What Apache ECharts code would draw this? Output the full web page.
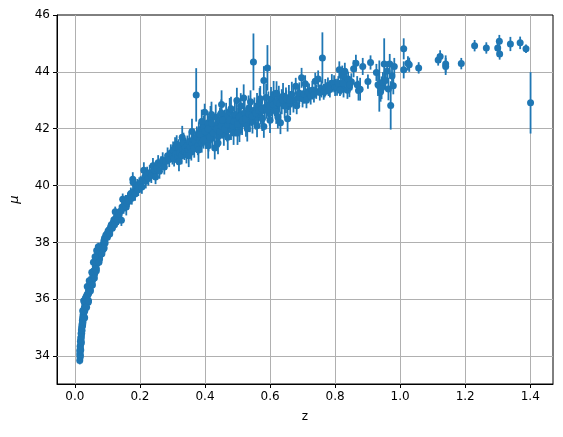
<!DOCTYPE html>
<html lang="en">
<head>
    <meta charset="UTF-8">
    <title>Hubble diagram</title>
    <script src="https://cdn.jsdelivr.net/npm/echarts@6/dist/echarts.min.js"></script>
    <style>
        body { margin: 0; background: #fff; }
        #chart { width: 563px; height: 437px; }
    </style>
</head>
<body>
    <div id="chart"></div>
    <script>
        // redshift of each supernova
        const zVals = [
            0.015,0.015,0.015,0.016,0.016,0.016,0.017,0.017,0.017,0.018,
            0.018,0.018,0.019,0.019,0.020,0.020,0.020,0.021,0.021,0.022,
            0.022,0.023,0.023,0.024,0.024,0.025,0.025,0.026,0.026,0.027,
            0.028,0.028,0.029,0.030,0.030,0.031,0.032,0.032,0.033,0.034,
            0.035,0.036,0.037,0.038,0.040,0.041,0.042,0.043,0.045,0.046,
            0.048,0.050,0.051,0.053,0.055,0.056,0.058,0.060,0.061,0.063,
            0.065,0.066,0.068,0.070,0.071,0.073,0.075,0.076,0.078,0.080,
            0.082,0.085,0.087,0.089,0.091,0.093,0.095,0.098,0.100,
            0.024,0.027,0.033,0.038,0.044,0.052,0.057,0.062,0.067,0.072,
            0.030,0.036,0.042,0.048,0.054,0.060,0.066,0.074,0.083,0.090,
            0.102,0.105,0.107,0.110,0.112,0.115,0.118,0.120,0.122,0.124,
            0.126,0.130,0.133,0.136,0.140,0.143,0.145,0.147,0.150,0.153,
            0.156,0.158,0.160,0.163,0.166,0.170,0.172,0.175,0.178,0.179,
            0.182,0.185,0.188,0.192,0.195,0.198,0.202,0.206,0.210,0.212,
            0.215,0.218,0.222,0.226,0.230,0.235,0.240,0.244,0.248,0.252,
            0.256,0.260,0.265,0.270,0.275,0.280,0.285,0.290,0.295,0.300,
            0.302,0.305,0.308,0.310,0.313,0.316,0.319,0.322,0.325,0.328,
            0.331,0.334,0.337,0.340,0.343,0.346,0.349,0.352,0.355,0.358,
            0.361,0.364,0.367,0.370,0.373,0.375,0.378,0.381,0.384,0.387,
            0.390,0.393,0.396,0.399,0.402,0.405,0.408,0.411,0.414,0.417,
            0.420,0.423,0.426,0.430,0.433,0.436,0.440,0.443,0.446,0.451,
            0.454,0.458,0.461,0.465,0.468,0.472,0.476,0.480,0.484,0.488,
            0.492,0.495,0.498,0.502,0.506,0.510,0.514,0.519,0.522,0.526,
            0.530,0.534,0.538,0.542,0.546,0.549,0.552,0.556,0.560,0.564,
            0.568,0.572,0.576,0.581,0.581,0.584,0.588,0.592,0.595,0.599,
            0.603,0.607,0.611,0.615,0.619,0.624,0.627,0.632,0.636,0.640,
            0.645,0.649,0.654,0.658,0.662,0.667,0.672,0.679,0.682,0.686,
            0.385,0.395,0.400,0.410,0.415,0.420,0.425,0.435,0.445,0.450,
            0.455,0.460,0.470,0.475,0.485,0.490,0.500,0.505,0.515,0.525,
            0.535,0.545,0.555,0.565,0.575,0.590,0.600,0.610,0.620,0.630,
            0.320,0.350,0.380,0.410,0.440,0.470,0.500,0.530,0.560,0.600,
            0.330,0.360,0.390,0.420,0.450,0.480,0.510,0.540,0.570,0.620,
            0.640,0.650,0.660,0.705,0.715,0.728,0.742,0.755,0.768,0.775,
            0.690,0.697,0.700,0.704,0.708,0.712,0.716,0.720,0.725,0.730,
            0.735,0.739,0.748,0.753,0.758,0.761,0.765,0.770,0.778,0.784,
            0.790,0.797,0.800,0.806,0.813,0.818,0.822,0.826,0.830,0.834,
            0.838,0.844,0.850,0.857,0.864,0.868,0.872,0.877,0.885,0.901,
            0.909,0.927,0.932,0.936,0.940,0.943,0.947,0.951,0.955,0.960,
            0.964,0.968,0.971,0.975,0.979,0.982,0.780,0.810,0.815,0.825,
            0.840,0.845,1.011,1.011,1.024,1.028,1.057,1.117,1.123,1.140,
            1.140,1.188,1.229,1.265,1.300,1.305,1.306,1.339,1.369,1.387,
            1.401
        ];
        // distance modulus
        const muVals = [
            33.85,34.05,34.20,33.95,34.35,34.12,34.28,34.52,34.02,34.42,
            34.65,34.22,34.58,34.80,34.68,34.92,34.48,34.80,35.02,34.90,
            35.12,35.05,35.25,35.10,35.35,35.20,35.45,35.32,35.55,35.45,
            35.62,35.38,35.70,35.58,35.85,35.75,35.95,35.68,35.88,36.05,
            35.92,36.12,35.98,36.18,36.15,35.90,36.32,36.22,36.48,36.38,
            36.58,36.50,36.68,36.62,36.80,36.72,36.92,37.02,36.90,37.15,
            37.28,37.08,37.32,37.45,37.30,37.55,37.62,37.42,37.70,37.58,
            37.80,37.92,37.75,38.05,38.15,37.98,38.25,38.30,38.18,
            35.60,35.95,36.05,36.45,36.65,36.95,37.30,37.50,37.72,37.85,
            35.35,35.72,35.95,36.30,36.50,36.75,37.00,37.30,37.60,37.80,
            38.40,38.45,38.30,38.55,38.62,38.50,38.70,38.80,38.62,39.08,
            38.85,38.90,38.78,39.00,39.10,38.78,39.25,39.52,39.20,39.35,
            39.48,39.25,39.40,39.55,39.45,39.60,39.72,39.55,40.22,40.12,
            39.80,39.70,39.92,40.00,39.85,40.05,40.10,39.95,40.20,40.54,
            40.30,40.15,40.40,40.25,40.45,40.35,40.70,40.55,40.30,40.62,
            40.80,40.50,40.75,40.90,40.65,40.85,41.05,40.92,41.15,41.02,
            41.25,40.95,41.35,41.10,41.45,41.00,41.30,41.15,41.40,41.05,
            41.25,41.50,41.20,41.35,41.08,41.42,41.28,41.55,41.35,41.18,
            41.48,41.62,41.30,41.55,43.19,41.72,41.40,41.85,41.60,41.95,
            41.50,41.75,42.05,42.58,41.65,41.88,42.20,41.55,41.80,42.35,
            41.95,41.70,42.10,41.32,42.40,41.90,42.15,41.75,42.30,42.85,
            42.05,41.85,42.25,42.45,41.95,42.20,42.60,42.00,42.35,41.85,
            42.50,42.15,42.99,42.30,41.95,42.45,42.20,43.08,42.55,42.15,
            42.40,42.70,42.30,42.55,42.25,44.35,42.65,42.40,42.80,42.50,
            42.95,42.60,42.35,43.70,42.08,42.75,43.10,44.14,42.85,42.55,
            43.00,42.70,43.20,42.90,42.60,42.41,43.05,42.21,42.95,43.15,
            42.80,43.00,42.35,43.10,42.90,43.20,43.00,43.49,42.81,43.10,
            41.80,41.60,41.90,42.00,41.70,42.20,41.85,42.00,41.90,42.10,
            42.30,42.00,42.15,42.30,42.10,42.25,42.15,42.40,42.30,42.35,
            42.50,42.45,42.55,42.65,42.70,42.65,42.80,42.85,42.95,42.90,
            40.85,41.05,41.25,41.40,41.50,41.70,41.85,42.00,42.10,42.30,
            41.70,41.90,42.25,42.50,42.55,42.70,42.80,42.95,43.05,43.25,
            43.00,43.05,43.00,43.12,43.18,43.25,43.30,43.35,43.32,43.40,
            43.25,43.79,43.05,43.20,43.58,43.00,43.30,43.29,43.15,43.35,
            43.20,43.67,43.75,43.27,43.40,44.49,43.30,43.45,43.52,43.40,
            43.60,43.58,43.45,43.46,44.07,43.55,43.87,43.40,44.02,43.70,
            43.35,43.46,43.65,44.11,44.30,43.55,43.34,43.39,44.19,43.66,
            44.33,43.98,43.55,43.50,43.30,43.44,43.64,44.28,43.70,44.02,
            43.40,44.28,42.82,43.85,43.51,44.19,43.35,43.60,43.35,43.60,
            43.75,43.55,44.81,44.07,44.30,44.25,44.14,44.42,44.54,44.28,
            44.19,44.29,44.92,44.84,44.84,45.08,44.63,44.98,45.02,44.81,
            42.91
        ];
        // error on mu
        const muErr = [
            0.14,0.15,0.13,0.16,0.14,0.15,0.14,0.15,0.16,0.14,
            0.15,0.14,0.15,0.14,0.15,0.14,0.15,0.14,0.15,0.14,
            0.15,0.14,0.15,0.14,0.15,0.14,0.14,0.15,0.14,0.15,
            0.14,0.15,0.14,0.15,0.14,0.15,0.14,0.15,0.15,0.14,
            0.15,0.14,0.15,0.14,0.15,0.14,0.14,0.15,0.14,0.15,
            0.14,0.15,0.14,0.15,0.14,0.15,0.14,0.15,0.14,0.15,
            0.14,0.15,0.14,0.15,0.14,0.15,0.14,0.15,0.14,0.15,
            0.14,0.15,0.14,0.15,0.14,0.15,0.14,0.15,0.14,
            0.15,0.14,0.15,0.14,0.15,0.14,0.15,0.14,0.15,0.14,
            0.15,0.14,0.15,0.14,0.15,0.14,0.15,0.14,0.15,0.14,
            0.15,0.16,0.15,0.16,0.15,0.16,0.17,0.16,0.17,0.18,
            0.17,0.18,0.17,0.18,0.18,0.20,0.18,0.20,0.19,0.20,
            0.19,0.30,0.20,0.21,0.20,0.22,0.21,0.22,0.25,0.22,
            0.22,0.23,0.22,0.23,0.22,0.24,0.23,0.24,0.25,0.28,
            0.24,0.25,0.26,0.25,0.27,0.26,0.27,0.26,0.25,0.28,
            0.27,0.26,0.28,0.27,0.26,0.28,0.29,0.27,0.30,0.28,
            0.30,0.28,0.35,0.30,0.32,0.28,0.33,0.30,0.35,0.30,
            0.32,0.36,0.30,0.33,0.30,0.34,0.31,0.35,0.32,0.30,
            0.34,0.36,0.32,0.35,0.94,0.36,0.33,0.38,0.35,0.40,
            0.34,0.37,0.40,0.30,0.36,0.40,0.42,0.35,0.38,0.45,
            0.40,0.37,0.42,0.40,0.45,0.38,0.42,0.40,0.44,0.50,
            0.40,0.45,0.42,0.46,0.40,0.43,0.48,0.40,0.44,0.42,
            0.46,0.42,0.45,0.43,0.42,0.45,0.42,0.48,0.44,0.43,
            0.44,0.47,0.42,0.45,0.42,1.00,0.45,0.43,0.46,0.44,
            0.48,0.45,0.43,0.50,0.40,0.45,0.48,0.80,0.46,0.44,
            0.47,0.45,0.48,0.45,0.43,0.40,0.46,0.40,0.44,0.46,
            0.43,0.45,0.45,0.44,0.42,0.45,0.43,0.30,0.30,0.35,
            0.30,0.30,0.35,0.30,0.30,0.35,0.30,0.30,0.30,0.35,
            0.30,0.30,0.30,0.35,0.30,0.30,0.30,0.35,0.30,0.30,
            0.35,0.30,0.30,0.35,0.30,0.30,0.35,0.30,0.30,0.30,
            0.35,0.40,0.42,0.45,0.40,0.45,0.42,0.45,0.40,0.45,
            0.40,0.45,0.42,0.45,0.48,0.42,0.45,0.40,0.45,0.42,
            0.30,0.30,0.30,0.20,0.22,0.20,0.25,0.20,0.22,0.20,
            0.38,0.35,0.30,0.32,0.30,0.28,0.32,0.30,0.30,0.32,
            0.28,0.30,0.30,0.28,0.30,0.90,0.28,0.30,0.28,0.30,
            0.32,0.30,0.30,0.30,0.30,0.35,0.35,0.30,0.30,0.32,
            0.30,0.35,0.30,0.30,0.30,0.30,0.35,0.40,0.30,0.25,
            0.25,0.30,0.40,0.90,0.35,0.40,0.35,0.90,0.35,0.35,
            0.40,0.35,0.85,0.40,0.30,0.30,0.20,0.25,0.20,0.25,
            0.25,0.20,0.37,0.30,0.25,0.25,0.20,0.20,0.22,0.30,
            0.30,0.20,0.20,0.20,0.25,0.22,0.20,0.25,0.22,0.15,
            1.08
        ];
        const xTicks = [0.0, 0.2, 0.4, 0.6, 0.8, 1.0, 1.2, 1.4];
        const yTicks = [34, 36, 38, 40, 42, 44, 46];

        const blue = '#1f77b4';
        const font = 'DejaVu Sans';

        const points = zVals.map((z, i) => [z, muVals[i]]);
        const bars = zVals.map((z, i) => [z, muVals[i] - muErr[i], muVals[i] + muErr[i]]);

        // grid lines drawn as mark lines so they sit on the tick values
        const gridLines = xTicks.map(v => ({ xAxis: v }))
            .concat(yTicks.filter(v => v < 46).map(v => ({ yAxis: v })));

        const chart = echarts.init(document.getElementById('chart'));
        chart.setOption({
            animation: false,
            backgroundColor: '#fff',
            grid: {
                left: 57, right: 10, top: 15, bottom: 53,
                show: true, borderColor: '#000', borderWidth: 1
            },
            xAxis: {
                type: 'value',
                min: -0.055, max: 1.47,
                name: 'z',
                nameLocation: 'middle',
                nameGap: 27,
                nameTextStyle: { color: '#000', fontSize: 12, fontFamily: font },
                axisLine: { onZero: false, lineStyle: { color: '#000', width: 1 } },
                axisTick: { show: true, length: 4, customValues: xTicks, lineStyle: { color: '#000' } },
                axisLabel: {
                    customValues: xTicks,
                    formatter: v => v.toFixed(1),
                    color: '#000', fontSize: 12, fontFamily: font, margin: 7
                },
                splitLine: { show: false }
            },
            yAxis: {
                type: 'value',
                min: 33.02, max: 46.0,
                name: 'μ',
                nameLocation: 'middle',
                nameRotate: 90,
                nameGap: 36,
                nameTextStyle: { color: '#000', fontSize: 13, fontFamily: font, fontStyle: 'italic' },
                axisLine: { onZero: false, lineStyle: { color: '#000', width: 1 } },
                axisTick: { show: true, length: 4, customValues: yTicks, lineStyle: { color: '#000' } },
                axisLabel: {
                    customValues: yTicks,
                    formatter: v => String(v),
                    color: '#000', fontSize: 12, fontFamily: font, margin: 7
                },
                splitLine: { show: false }
            },
            series: [
                {
                    type: 'line',
                    data: [],
                    silent: true,
                    markLine: {
                        silent: true,
                        symbol: 'none',
                        label: { show: false },
                        lineStyle: { color: '#b0b0b0', width: 1, type: 'solid' },
                        emphasis: { disabled: true },
                        data: gridLines
                    }
                },
                {
                    type: 'custom',
                    z: 10,
                    silent: true,
                    data: bars,
                    encode: { x: 0, y: [1, 2] },
                    renderItem: (params, api) => {
                        const lo = api.coord([api.value(0), api.value(1)]);
                        const hi = api.coord([api.value(0), api.value(2)]);
                        return {
                            type: 'line',
                            shape: { x1: lo[0], y1: lo[1], x2: hi[0], y2: hi[1] },
                            style: { stroke: blue, lineWidth: 1.8 }
                        };
                    }
                },
                {
                    type: 'scatter',
                    z: 11,
                    silent: true,
                    data: points,
                    symbol: 'circle',
                    symbolSize: 7,
                    itemStyle: { color: blue, opacity: 1 }
                }
            ]
        });
    </script>
</body>
</html>
